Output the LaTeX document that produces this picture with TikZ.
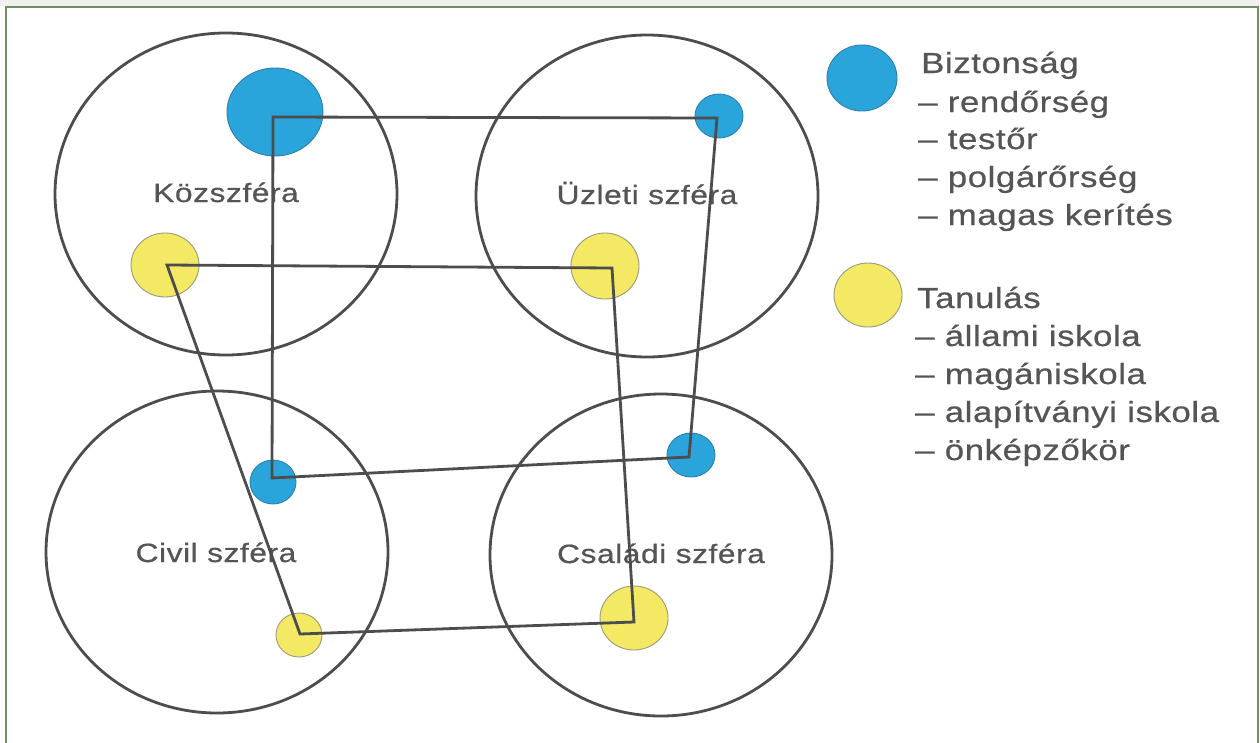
\documentclass[tikz,border=0pt]{standalone}
\usepackage{fontspec}
\setmainfont[FakeStretch=1.2,LetterSpace=2,FakeBold=0.6]{Liberation Sans}
\usetikzlibrary{shapes.geometric}
\definecolor{frame}{HTML}{6F8F5F}
\definecolor{ink}{HTML}{4D4D4D}
\definecolor{txt}{HTML}{555555}
\definecolor{bluefill}{HTML}{2AA5DC}
\definecolor{blueedge}{HTML}{2D7FAE}
\definecolor{yelfill}{HTML}{F3E964}
\definecolor{yeledge}{HTML}{9C9A7A}
\begin{document}
\begin{tikzpicture}[x=1pt,y=-1pt,
  sphere/.style={ellipse,draw=ink,line width=2.8pt,minimum width=342pt,minimum height=322pt,inner sep=0pt},
  bdot/.style={ellipse,fill=bluefill,draw=blueedge,line width=0.9pt,inner sep=0pt},
  ydot/.style={ellipse,fill=yelfill,draw=yeledge,line width=0.9pt,inner sep=0pt},
  link/.style={draw=ink,line width=2.8pt,line join=miter},
  sphlabel/.style={anchor=base,inner sep=0pt,text=txt,font=\fontsize{26.5}{30}\selectfont},
  legtext/.style={anchor=base west,inner sep=0pt,text=txt,font=\fontsize{29}{38}\selectfont}]
\useasboundingbox (0,0) rectangle (1260,742);
\fill[white] (0,0) rectangle (1260,742);
\fill[black!6] (0,0) rectangle (1260,6);
% frame
\draw[frame,line width=2pt] (6,745) -- (6,7) -- (1258,7) -- (1258,745);

% the four spheres
\node[sphere] (koz) at (226,194) {};
\node[sphere] (uzl) at (647,196) {};
\node[sphere] (civ) at (217,552) {};
\node[sphere] (csa) at (661,555) {};

\node[sphlabel] (kozl) at (226,202) {Közszféra};
\node[sphlabel] (uzll) at (647,204) {Üzleti szféra};
\node[sphlabel] (civl) at (216,562) {Civil szféra};
\node[sphlabel] (csal) at (661,563) {Családi szféra};

% security dots
\node[bdot,minimum width=96pt,minimum height=88pt] (bk) at (275,112) {};
\node[bdot,minimum width=48pt,minimum height=44pt] (bu) at (719,116) {};
\node[bdot,minimum width=48pt,minimum height=44pt] (bcs) at (691,455) {};
\node[bdot,minimum width=46pt,minimum height=44pt] (bc) at (273,482) {};
% learning dots
\node[ydot,minimum width=68pt,minimum height=64pt] (yk) at (165,265) {};
\node[ydot,minimum width=68pt,minimum height=66pt] (yu) at (605,266) {};
\node[ydot,minimum width=68pt,minimum height=64pt] (ycs) at (634,618) {};
\node[ydot,minimum width=46pt,minimum height=44pt] (yc) at (299,635) {};

% corners of the two loops
\coordinate (b1) at (273,117);
\coordinate (b2) at (717,118);
\coordinate (b3) at (689,457);
\coordinate (b4) at (272,478);
\coordinate (y1) at (167,265);
\coordinate (y2) at (612,268);
\coordinate (y3) at (634,622);
\coordinate (y4) at (300,634);
\draw[link] (b1) -- (b2) -- (b3) -- (b4) -- cycle;
\draw[link] (y1) -- (y2) -- (y3) -- (y4) -- cycle;

% legend
\node[bdot,minimum width=70pt,minimum height=66pt] (legb) at (862,78) {};
\node[ydot,minimum width=68pt,minimum height=64pt] (legy) at (868,295) {};
\node[legtext] (t1) at (921,73) {Biztonság};
\node[legtext] (t2) at (918,112) {– rendőrség};
\node[legtext] (t3) at (918,149) {– testőr};
\node[legtext] (t4) at (918,187) {– polgárőrség};
\node[legtext] (t5) at (918,225) {– magas kerítés};
\node[legtext] (t6) at (917,308) {Tanulás};
\node[legtext] (t7) at (915,346) {– állami iskola};
\node[legtext] (t8) at (915,384) {– magániskola};
\node[legtext] (t9) at (915,422) {– alapítványi iskola};
\node[legtext] (t10) at (915,460) {– önképzőkör};
\end{tikzpicture}
\end{document}
